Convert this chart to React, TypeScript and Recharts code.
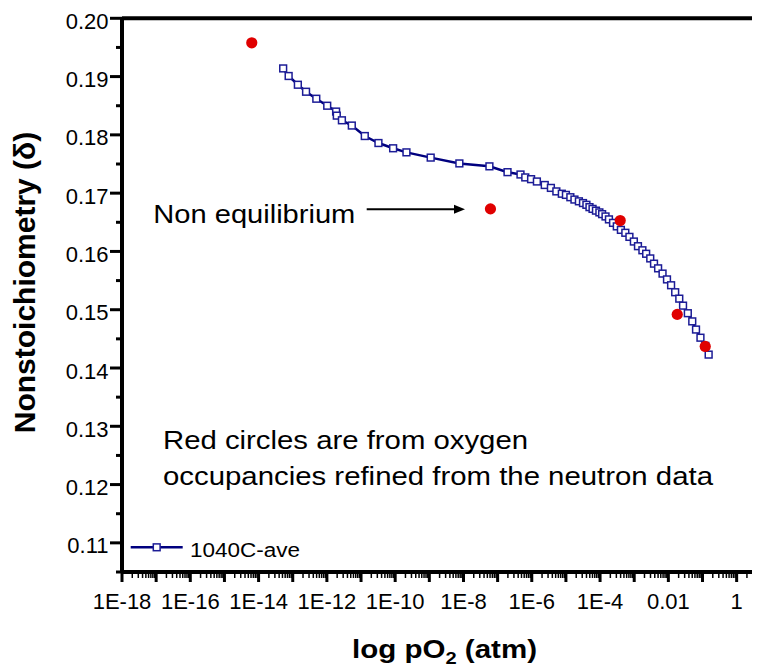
import { ScatterChart, Scatter, XAxis, YAxis, ReferenceLine } from 'recharts';

const FONT = "'Liberation Sans', Arial, Helvetica, sans-serif";
const NAVY = '#00007f';
const RED = '#e00000';

// 1040C-ave curve: log10(pO2) and delta
const curveLogP = [
  -13.28, -13.12, -12.85, -12.61, -12.31, -11.99, -11.73, -11.71, -11.56, -11.27,
  -10.89, -10.49, -10.06, -9.67, -8.96, -8.12, -7.24, -6.71, -6.33, -6.19,
  -6.02, -5.85, -5.62, -5.44, -5.28, -5.12, -5.0, -4.87, -4.75, -4.62,
  -4.5, -4.4, -4.31, -4.22, -4.12, -4.02, -3.94, -3.84, -3.74, -3.62,
  -3.51, -3.39, -3.26, -3.14, -3.01, -2.89, -2.76, -2.65, -2.53, -2.42,
  -2.3, -2.17, -2.04, -1.92, -1.8, -1.68, -1.57, -1.43, -1.3, -1.19,
  -1.06, -0.92, -0.82,
];
const curveDelta = [
  0.1914, 0.1901, 0.1886, 0.1874, 0.1862, 0.185, 0.184, 0.1833, 0.1825, 0.1816,
  0.1798, 0.1786, 0.1777, 0.177, 0.1761, 0.1751, 0.1746, 0.1736, 0.1732, 0.1727,
  0.1724, 0.172, 0.1714, 0.1709, 0.1703, 0.1699, 0.1697, 0.1693, 0.1689, 0.1686,
  0.1683, 0.168, 0.1676, 0.1673, 0.167, 0.1667, 0.1664, 0.166, 0.1655, 0.1649,
  0.1643, 0.1637, 0.1632, 0.1625, 0.1617, 0.1609, 0.1602, 0.1596, 0.1588, 0.1579,
  0.1571, 0.1562, 0.1552, 0.1542, 0.153, 0.1519, 0.1507, 0.1494, 0.148, 0.1466,
  0.1452, 0.1438, 0.1423,
];

// neutron refinement (red circles)
const neutronLogP = [-14.2, -7.21, -3.41, -1.74, -0.92];
const neutronDelta = [0.1958, 0.1673, 0.1653, 0.1492, 0.1437];

// axis ticks
const xLabelExp = [-18, -16, -14, -12, -10, -8, -6, -4, -2, 0];
const xLabels = ['1E-18', '1E-16', '1E-14', '1E-12', '1E-10', '1E-8', '1E-6', '1E-4', '0.01', '1'];
const yTicks = [
  0.105, 0.11, 0.115, 0.12, 0.125, 0.13, 0.135, 0.14, 0.145, 0.15,
  0.155, 0.16, 0.165, 0.17, 0.175, 0.18, 0.185, 0.19, 0.195, 0.2,
];

const curve = curveLogP.map((e, i) => ({ p: Math.pow(10, e), delta: curveDelta[i] }));
const neutron = neutronLogP.map((e, i) => ({ p: Math.pow(10, e), delta: neutronDelta[i] }));

const xTicks: number[] = [];
for (let e = -18; e <= 0; e++) {
  for (let k = 1; k <= 9; k++) xTicks.push(k * Math.pow(10, e));
}
xTicks.push(10);

const W = 780;
const H = 661;
const AXIS_X = 114;
const AXIS_Y = 564;

function XTick(props: any) {
  const { x, payload } = props;
  const lg = Math.log10(payload.value);
  const r = Math.round(lg);
  const major = Math.abs(lg - r) < 1e-6;
  const idx = major ? xLabelExp.indexOf(r) : -1;
  return (
    <g>
      <line
        x1={x}
        x2={x}
        y1={AXIS_Y}
        y2={major ? AXIS_Y + 10 : AXIS_Y + 6}
        stroke="#000"
        strokeWidth={major ? 3 : 1.5}
      />
      {idx >= 0 && (
        <text x={x} y={600.5} textAnchor="middle" fontSize={22} fontFamily={FONT} fill="#000">
          {xLabels[idx]}
        </text>
      )}
    </g>
  );
}

function YTick(props: any) {
  const { y, payload } = props;
  const v = payload.value;
  const major = Math.round(v * 1000) % 10 === 0;
  return (
    <g>
      <line x1={AXIS_X - (major ? 12 : 6)} x2={AXIS_X} y1={y} y2={y} stroke="#000" strokeWidth={3} />
      {major && (
        <text x={100.5} y={y + 10.5} textAnchor="end" fontSize={22} fontFamily={FONT} fill="#000">
          {v.toFixed(2)}
        </text>
      )}
    </g>
  );
}

const squareShape = (props: any) => (
  <rect
    x={props.cx - 3.4}
    y={props.cy - 3.4}
    width={6.8}
    height={6.8}
    fill="#fff"
    stroke="#1c1c96"
    strokeWidth={1.5}
  />
);

const circleShape = (props: any) => <circle cx={props.cx} cy={props.cy} r={5.6} fill={RED} />;

export default function App() {
  return (
    <div style={{ width: 752, height: H, overflow: 'hidden', position: 'relative' }}>
      <ScatterChart
        width={W}
        height={H}
        margin={{ top: 10.3, right: 17.2, bottom: 37, left: 0 }}
      >
        <XAxis
          type="number"
          dataKey="p"
          scale="log"
          domain={[1e-18, 10]}
          allowDataOverflow
          ticks={xTicks}
          interval={0}
          tick={<XTick />}
          tickLine={false}
          axisLine={{ stroke: '#000', strokeWidth: 4 }}
          height={60}
        />
        <YAxis
          type="number"
          dataKey="delta"
          domain={[0.105, 0.2]}
          allowDataOverflow
          ticks={yTicks}
          interval={0}
          tick={<YTick />}
          tickLine={false}
          axisLine={{ stroke: '#000', strokeWidth: 4 }}
          width={AXIS_X}
        />
        <ReferenceLine y={0.2} stroke="#000" strokeWidth={4} />
        <Scatter
          name="1040C-ave"
          data={curve}
          line={{ stroke: NAVY, strokeWidth: 2.5 }}
          shape={squareShape}
          isAnimationActive={false}
        />
        <Scatter name="neutron" data={neutron} shape={circleShape} isAnimationActive={false} />
      </ScatterChart>

      <svg
        width={W}
        height={H}
        style={{ position: 'absolute', left: 0, top: 0, pointerEvents: 'none' }}
        fontFamily={FONT}
      >
        <text
          transform="translate(27,274.5) rotate(-90)"
          textAnchor="middle"
          fontSize={30}
          fontWeight="bold"
        >
          Nonstoichiometry (δ)
        </text>
        <text
          x={344}
          y={650.3}
          fontSize={25}
          fontWeight="bold"
          textLength={185}
          lengthAdjust="spacingAndGlyphs"
        >
          log pO
          <tspan fontSize={17} dy={6}>2</tspan>
          <tspan dy={-6}> (atm)</tspan>
        </text>

        <text x={145.3} y={215.3} fontSize={25} textLength={202} lengthAdjust="spacingAndGlyphs">
          Non equilibrium
        </text>
        <line x1={358.7} y1={201.3} x2={448} y2={201.3} stroke="#000" strokeWidth={2} />
        <polygon points="446,196.8 457,201.3 446,205.8" fill="#000" />

        <text x={155} y={441.3} fontSize={25} textLength={365} lengthAdjust="spacingAndGlyphs">
          Red circles are from oxygen
        </text>
        <text x={155} y={477} fontSize={25} textLength={550} lengthAdjust="spacingAndGlyphs">
          occupancies refined from the neutron data
        </text>

        <line x1={122.7} y1={539.3} x2={174.7} y2={539.3} stroke={NAVY} strokeWidth={2.5} />
        <rect x={145.3} y={535.9} width={6.8} height={6.8} fill="#fff" stroke="#1c1c96" strokeWidth={1.5} />
        <text x={182} y={549.3} fontSize={20} textLength={110} lengthAdjust="spacingAndGlyphs">
          1040C-ave
        </text>
      </svg>
    </div>
  );
}
